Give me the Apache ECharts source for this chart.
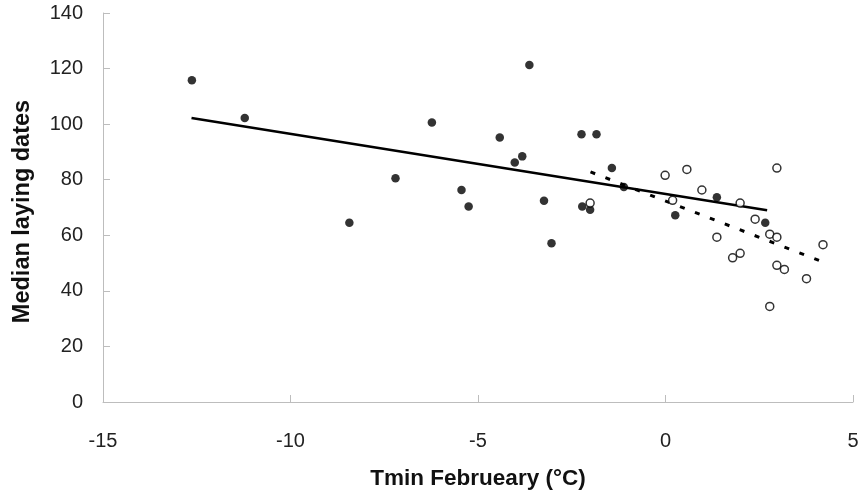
<!DOCTYPE html>
<html>
<head>
<meta charset="utf-8">
<script src="https://cdn.jsdelivr.net/npm/echarts@6/dist/echarts.min.js"></script>
<style>html,body{margin:0;padding:0;background:#fff}#c{width:860px;height:492px}</style>
</head>
<body>
<div id="c"></div>
<script>
// Filled points (period 1)
const filledX = [-12.63, -11.22, -6.23, -3.63, -4.42, -3.82, -4.02, -7.20, -5.44, -5.25, -8.43, -3.24, -3.04, -2.24, -1.84, -1.43, -1.11, -2.22, -2.01, 0.26, 1.37, 2.66];
const filledY = [115.8, 102.2, 100.6, 121.3, 95.2, 88.4, 86.2, 80.5, 76.3, 70.4, 64.5, 72.4, 57.1, 96.4, 96.4, 84.2, 77.4, 70.4, 69.2, 67.2, 73.7, 64.5];
// Open points (period 2)
const openX = [-2.01, -0.01, 0.57, 0.97, 0.19, 1.99, 2.39, 1.37, 1.99, 1.79, 2.78, 2.97, 2.97, 4.20, 2.97, 3.17, 3.76, 2.78];
const openY = [71.6, 81.6, 83.7, 76.3, 72.6, 71.6, 65.8, 59.3, 53.5, 51.9, 60.4, 59.3, 84.2, 56.6, 49.2, 47.7, 44.4, 34.4];
// Trend lines (endpoints)
const solidTrendX = [-12.64, 2.71];
const solidTrendY = [102.2, 69.0];
const dashTrendX = [-2.0, 4.22];
const dashTrendY = [82.8, 50.3];
// Axes
const xTicks = [-15, -10, -5, 0, 5];
const yTicks = [0, 20, 40, 60, 80, 100, 120, 140];
const xTitle = 'Tmin Februeary (°C)';
const yTitle = 'Median laying dates';

const zip = (a, b) => a.map((v, i) => [v, b[i]]);
const font = '"Liberation Sans", Arial, sans-serif';
const chart = echarts.init(document.getElementById('c'), null, {renderer: 'canvas'});
chart.setOption({
  animation: false,
  backgroundColor: '#fff',
  grid: {left: 103, right: 7, top: 13, bottom: 90, containLabel: false, outerBoundsMode: 'none'},
  xAxis: {
    type: 'value', min: xTicks[0], max: xTicks[xTicks.length - 1], interval: 5,
    name: xTitle, nameLocation: 'middle', nameGap: 65, nameMoveOverlap: false,
    nameTextStyle: {fontFamily: font, fontWeight: 'bold', fontSize: 22.5, color: '#111'},
    axisLine: {show: true, onZero: false, lineStyle: {color: '#bdbdbd', width: 1}},
    axisTick: {show: true, inside: true, length: 7, lineStyle: {color: '#bdbdbd'}},
    axisLabel: {fontFamily: font, fontSize: 20, color: '#222', margin: 29},
    splitLine: {show: false}
  },
  yAxis: {
    type: 'value', min: yTicks[0], max: yTicks[yTicks.length - 1], interval: 20,
    name: yTitle, nameLocation: 'middle', nameGap: 68, nameRotate: 90, nameMoveOverlap: false,
    nameTextStyle: {fontFamily: font, fontWeight: 'bold', fontSize: 23.5, color: '#111', padding: [0, 8, 0, 0]},
    axisLine: {show: true, onZero: false, lineStyle: {color: '#bdbdbd', width: 1}},
    axisTick: {show: true, inside: true, length: 7, lineStyle: {color: '#bdbdbd'}},
    axisLabel: {fontFamily: font, fontSize: 20, color: '#222', margin: 20},
    splitLine: {show: false}
  },
  series: [
    {
      type: 'line', data: zip(solidTrendX, solidTrendY), symbol: 'none',
      lineStyle: {color: '#000', width: 2.6}, z: 2
    },
    {
      type: 'line', data: zip(dashTrendX, dashTrendY), symbol: 'none',
      lineStyle: {color: '#000', width: 3, type: [5, 11]}, z: 2
    },
    {
      type: 'scatter', data: zip(filledX, filledY), symbol: 'circle', symbolSize: 8.5,
      itemStyle: {color: '#000'}, z: 3
    },
    {
      type: 'scatter', data: zip(openX, openY), symbol: 'circle', symbolSize: 8,
      itemStyle: {color: '#fff', borderColor: '#000', borderWidth: 1.5}, z: 4
    }
  ]
});
</script>
</body>
</html>
